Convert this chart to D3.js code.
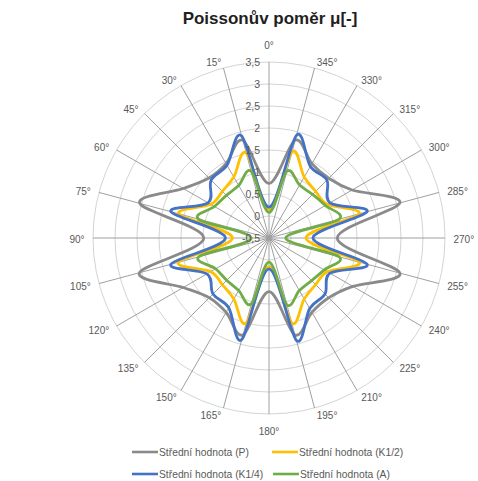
<!DOCTYPE html>
<html><head><meta charset="utf-8">
<script src="https://cdn.jsdelivr.net/npm/d3@7"></script>
<style>
body{margin:0;background:#fff;}
svg{display:block;}
text{font-family:"Liberation Sans","DejaVu Sans",sans-serif;}
</style></head>
<body>
<svg id="chart" width="478" height="481"></svg>
<script>
// ---- data ----
const title = "Poissonův poměr μ[-]";
const categories = [0,15,30,45,60,75,90,105,120,135,150,165,180,195,210,225,240,255,270,285,300,315,330,345];
const seriesNames = ["Střední hodnota (P)","Střední hodnota (K1/2)","Střední hodnota (K1/4)","Střední hodnota (A)"];
const valuesP   = [0.74,1.80,1.45,1.43,1.75,2.54,0.98,2.55,1.75,1.42,1.45,1.78,0.72,1.78,1.45,1.42,1.70,2.58,1.05,2.58,1.68,1.42,1.45,1.80];
const valuesK12 = [0.15,1.50,1.10,1.00,1.03,1.62,0.33,1.63,1.03,1.00,1.10,1.50,0.15,1.50,1.10,1.00,1.03,1.62,0.34,1.62,1.03,1.00,1.10,1.53];
const valuesK14 = [0.20,1.90,1.41,1.36,1.10,1.81,0.49,1.81,1.13,1.30,1.33,1.89,0.20,1.91,1.35,1.30,1.10,1.81,0.50,1.81,1.10,1.36,1.38,1.92];
const valuesA   = [0.08,1.07,0.88,0.87,0.93,1.16,-0.10,1.15,0.90,0.86,0.88,1.05,0.05,1.07,0.88,0.87,0.95,1.15,-0.12,1.15,0.98,0.90,0.89,1.07];
const radialTicks = [-0.5,0,0.5,1,1.5,2,2.5,3,3.5];
const colors = ["#8a8a8a","#ffc000","#4472c4","#70ad47"];

// ---- layout ----
const svg = d3.select("#chart");
const cx = 269, cy = 238, R = 176;
const r = d3.scaleLinear().domain([-0.5,3.5]).range([0,R]);
const fmt = v => String(v).replace(".", ",");

svg.append("text").attr("x",270).attr("y",24).attr("text-anchor","middle")
  .attr("font-size",17).attr("font-weight","bold").attr("fill","#1f1f1f").text(title);

const g = svg.append("g").attr("transform",`translate(${cx},${cy})`);

// rings
g.selectAll("circle.ring").data(radialTicks.slice(1)).join("circle")
  .attr("class","ring").attr("r",d=>r(d)).attr("fill","none")
  .attr("stroke","#d4d4d4").attr("stroke-width",1);

// spokes
const rad = a => a*Math.PI/180;
g.selectAll("line.spoke").data(categories).join("line")
  .attr("x1",0).attr("y1",0)
  .attr("x2",d=>-Math.sin(rad(d))*R).attr("y2",d=>-Math.cos(rad(d))*R)
  .attr("stroke","#a0a0a0").attr("stroke-width",1);

// series
const allSeries = [valuesP, valuesK12, valuesK14, valuesA];
const line = d3.lineRadial()
  .angle((d,i)=>-rad(categories[i]))
  .radius(d=>r(d))
  .curve(d3.curveCardinalClosed.tension(0));
allSeries.forEach((vals,k)=>{
  g.append("path").attr("d",line(vals)).attr("fill","none")
    .attr("stroke",colors[k]).attr("stroke-width",2.8).attr("stroke-linejoin","round");
});

// radial tick labels
g.selectAll("text.rt").data(radialTicks).join("text")
  .attr("x",-9).attr("y",d=>-r(d)).attr("dy","0.35em")
  .attr("text-anchor","end").attr("font-size",10.5).attr("fill","#595959")
  .text(d=>fmt(d));

// angle labels
g.selectAll("text.al").data(categories).join("text")
  .attr("font-size",10).attr("fill","#595959")
  .text(d=>d+"°")
  .each(function(d){
    const t = d3.select(this);
    const w = this.getComputedTextLength();
    const sx = -Math.sin(rad(d)), sy = -Math.cos(rad(d));
    let x = sx*R, y = sy*R;
    if (Math.abs(sx) < 0.01) { y += sy*17; }
    else { x += Math.sign(sx)*w/2 + sx*8.5; y += sy*7 + 1; }
    t.attr("x",x).attr("y",y).attr("text-anchor","middle").attr("dy","0.35em");
  });

// legend
const legendItems = [
  {name:seriesNames[0], color:colors[0], x:132, y:452},
  {name:seriesNames[1], color:colors[1], x:272, y:452},
  {name:seriesNames[2], color:colors[2], x:132, y:474},
  {name:seriesNames[3], color:colors[3], x:273, y:474}
];
const lg = svg.append("g");
legendItems.forEach(it=>{
  lg.append("line").attr("x1",it.x).attr("x2",it.x+26).attr("y1",it.y).attr("y2",it.y)
    .attr("stroke",it.color).attr("stroke-width",2.6);
  lg.append("text").attr("x",it.x+27).attr("y",it.y).attr("dy","0.35em")
    .attr("font-size",10.3).attr("fill","#595959").text(it.name);
});
</script>
</body></html>
